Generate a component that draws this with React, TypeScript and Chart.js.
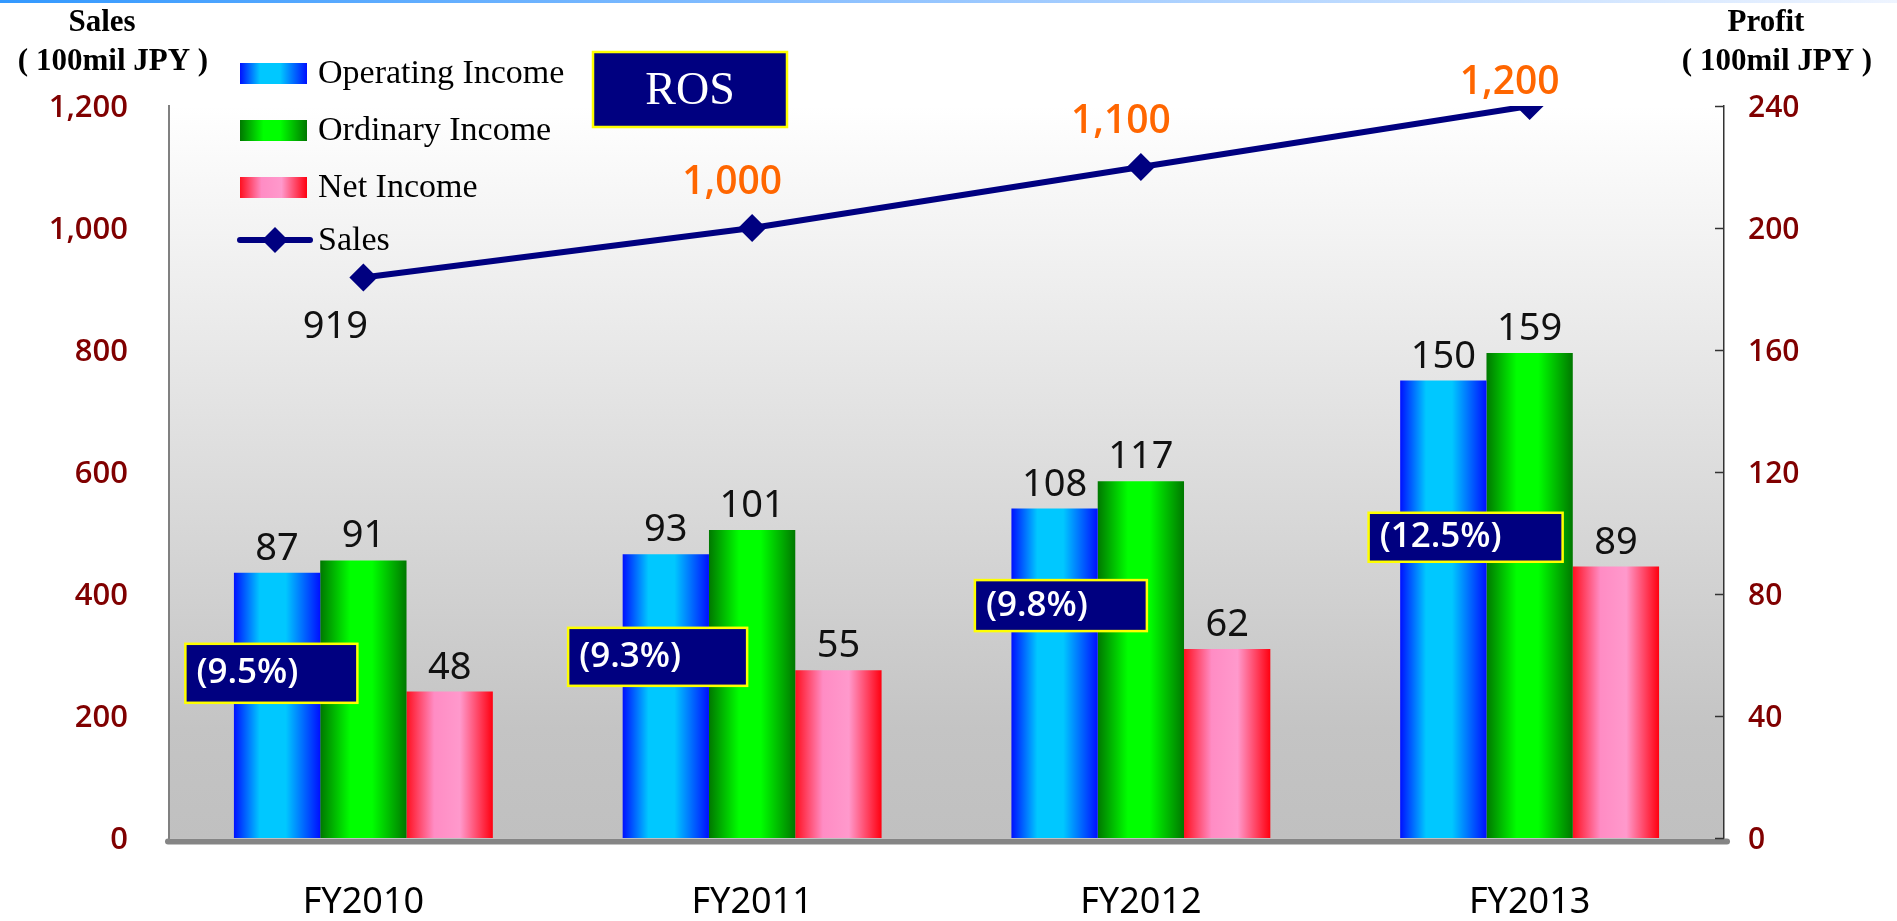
import React, { useEffect, useRef } from 'react';
import { Chart, registerables } from 'chart.js';

Chart.register(...registerables);

// ---------- data ----------
const categories = ['FY2010', 'FY2011', 'FY2012', 'FY2013'];
const operatingIncome = [87, 93, 108, 150];
const ordinaryIncome = [91, 101, 117, 159];
const netIncome = [48, 55, 62, 89];
const sales = [919, 1000, 1100, 1200];
const rosLabels = ['(9.5%)', '(9.3%)', '(9.8%)', '(12.5%)'];
const seriesNames = ['Operating Income', 'Ordinary Income', 'Net Income', 'Sales'];
const salesAxis = { min: 0, max: 1200, step: 200 };
const profitAxis = { min: 0, max: 240, step: 40 };
const salesAxisTitle = ['Sales', '( 100mil JPY )'];
const profitAxisTitle = ['Profit', '( 100mil JPY )'];
const rosTitle = 'ROS';

// ---------- styles / layout ----------
const W = 1897;
const H = 921;
const CAT_PCT = 0.666;
const NAVY = '#000080';
const AXIS_RED = '#800000';
const SANS = '"Noto Sans", "Open Sans", sans-serif';
const SANS_MED = '"Open Sans", "Noto Sans", sans-serif';
const SERIF = '"Liberation Serif", "DejaVu Serif", serif';

const GRADS: [number, string][][] = [
  [[0, '#0010ff'], [0.3, '#00c8ff'], [0.6, '#00c8ff'], [1, '#0010ff']],
  [[0, '#007800'], [0.35, '#00ff00'], [0.6, '#00ff00'], [1, '#007800']],
  [[0, '#ff1020'], [0.32, '#ff8cc4'], [0.62, '#ff99cc'], [1, '#ff0010']],
];

// ROS annotation boxes: offset from category centre, vertical centre in sales-axis units
const ROS_BOX = {
  dx: [-178, -184, -166, -161],
  yVal: [270, 297, 381, 493],
  w: [172, 179, 172, 194],
  h: [59, 58, 51, 49],
};

function makeGrad(ctx: CanvasRenderingContext2D, k: number, x0: number, x1: number) {
  const g = ctx.createLinearGradient(x0, 0, x1, 0);
  GRADS[k].forEach(([p, c]) => g.addColorStop(p, c));
  return g;
}

function barFill(k: number) {
  return (c: any) => {
    const chart = c.chart;
    const xs = chart.scales && chart.scales.x;
    if (!xs || !chart.chartArea || c.type !== 'data') return GRADS[k][1][1];
    const catW = xs.width / categories.length;
    const barW = (catW * CAT_PCT) / 3;
    const center = xs.getPixelForValue(c.dataIndex);
    const left = center - 1.5 * barW + k * barW;
    return makeGrad(chart.ctx, k, left, left + barW);
  };
}

function drawDiamond(ctx: CanvasRenderingContext2D, x: number, y: number, r: number) {
  ctx.beginPath();
  ctx.moveTo(x, y - r);
  ctx.lineTo(x + r, y);
  ctx.lineTo(x, y + r);
  ctx.lineTo(x - r, y);
  ctx.closePath();
  ctx.fill();
}

const backgroundPlugin = {
  id: 'bgPlugin',
  beforeDraw(chart: any) {
    const { ctx, chartArea } = chart;
    ctx.save();
    ctx.fillStyle = '#ffffff';
    ctx.fillRect(0, 0, W, H);
    const sg = ctx.createLinearGradient(0, 0, W, 0);
    sg.addColorStop(0, '#3399ff');
    sg.addColorStop(0.45, '#8fc2ff');
    sg.addColorStop(1, '#eef4ff');
    ctx.fillStyle = sg;
    ctx.fillRect(0, 0, W, 3);
    const bg = ctx.createLinearGradient(0, chartArea.top, 0, chartArea.bottom);
    bg.addColorStop(0, '#ffffff');
    bg.addColorStop(0.85, '#c4c4c4');
    bg.addColorStop(1, '#c0c0c0');
    ctx.fillStyle = bg;
    ctx.fillRect(chartArea.left, chartArea.top, chartArea.right - chartArea.left, chartArea.bottom - chartArea.top);
    ctx.restore();
  },
};

const overlayPlugin = {
  id: 'overlayPlugin',
  afterDatasetsDraw(chart: any) {
    const { ctx, chartArea, scales } = chart;
    const xs = scales.x;
    const ys = scales.y;
    const y1 = scales.y1;
    ctx.save();

    // bottom axis bar
    ctx.strokeStyle = '#858585';
    ctx.lineWidth = 6;
    ctx.lineCap = 'round';
    ctx.beginPath();
    ctx.moveTo(chartArea.left - 1, chartArea.bottom + 3.5);
    ctx.lineTo(chartArea.right + 3, chartArea.bottom + 3.5);
    ctx.stroke();

    // right axis inward ticks
    ctx.strokeStyle = '#333333';
    ctx.lineWidth = 1.5;
    ctx.lineCap = 'butt';
    for (let v = profitAxis.min; v <= profitAxis.max; v += profitAxis.step) {
      const py = Math.round(y1.getPixelForValue(v)) + 0.5;
      ctx.beginPath();
      ctx.moveTo(chartArea.right - 9, py);
      ctx.lineTo(chartArea.right, py);
      ctx.stroke();
    }

    // bar value labels
    ctx.fillStyle = '#111111';
    ctx.font = `38px ${SANS}`;
    ctx.textAlign = 'center';
    ctx.textBaseline = 'alphabetic';
    for (let d = 0; d < 3; d++) {
      const meta = chart.getDatasetMeta(d);
      meta.data.forEach((el: any, i: number) => {
        const v = chart.data.datasets[d].data[i];
        ctx.fillText(String(v), el.x, el.y - 13);
      });
    }

    // sales labels
    const lmeta = chart.getDatasetMeta(3);
    ctx.textBaseline = 'middle';
    lmeta.data.forEach((el: any, i: number) => {
      const v = sales[i];
      const txt = v.toLocaleString('en-US');
      if (i === 0) {
        ctx.fillStyle = '#111111';
        ctx.font = `38px ${SANS}`;
        ctx.fillText(txt, el.x - 28, el.y + 50);
      } else {
        ctx.fillStyle = '#ff6600';
        ctx.font = `600 39px ${SANS_MED}`;
        const ly = Math.max(el.y - 45, 83);
        ctx.fillText(txt, el.x - 20, ly);
      }
    });

    // ROS boxes
    rosLabels.forEach((t, i) => {
      const cx = xs.getPixelForValue(i);
      const bx = cx + ROS_BOX.dx[i];
      const by = ys.getPixelForValue(ROS_BOX.yVal[i]) - ROS_BOX.h[i] / 2;
      ctx.fillStyle = NAVY;
      ctx.fillRect(bx, by, ROS_BOX.w[i], ROS_BOX.h[i]);
      ctx.strokeStyle = '#ffff00';
      ctx.lineWidth = 2.5;
      ctx.strokeRect(bx, by, ROS_BOX.w[i], ROS_BOX.h[i]);
      ctx.fillStyle = '#ffffff';
      ctx.font = `600 35px ${SANS_MED}`;
      ctx.textAlign = 'left';
      ctx.textBaseline = 'middle';
      ctx.fillText(t, bx + 11, by + ROS_BOX.h[i] / 2);
    });

    // ROS header box
    ctx.fillStyle = NAVY;
    ctx.fillRect(593, 52, 194, 75);
    ctx.strokeStyle = '#ffff00';
    ctx.lineWidth = 2.5;
    ctx.strokeRect(593, 52, 194, 75);
    ctx.fillStyle = '#ffffff';
    ctx.font = `46px ${SERIF}`;
    ctx.textAlign = 'center';
    ctx.textBaseline = 'middle';
    ctx.fillText(rosTitle, 690, 92);

    // legend
    const rows = [73, 130, 187, 240];
    ctx.textAlign = 'left';
    ctx.textBaseline = 'middle';
    ctx.font = `34px ${SERIF}`;
    for (let k = 0; k < 3; k++) {
      ctx.fillStyle = makeGrad(ctx, k, 240, 307);
      ctx.fillRect(240, rows[k] - 10, 67, 21);
    }
    ctx.strokeStyle = NAVY;
    ctx.lineWidth = 6;
    ctx.lineCap = 'round';
    ctx.beginPath();
    ctx.moveTo(240, rows[3]);
    ctx.lineTo(310, rows[3]);
    ctx.stroke();
    ctx.fillStyle = NAVY;
    drawDiamond(ctx, 275, rows[3], 13);
    ctx.fillStyle = '#000000';
    seriesNames.forEach((n, k) => ctx.fillText(n, 318, rows[k] + 1));

    // axis titles
    ctx.font = `bold 31px ${SERIF}`;
    ctx.textAlign = 'center';
    ctx.fillText(salesAxisTitle[0], 102, 23);
    ctx.fillText(salesAxisTitle[1], 113, 62);
    ctx.fillText(profitAxisTitle[0], 1766, 23);
    ctx.fillText(profitAxisTitle[1], 1777, 62);

    ctx.restore();
  },
};

export default function App() {
  const ref = useRef<HTMLCanvasElement>(null);
  useEffect(() => {
    document.body.style.margin = '0';
    const canvas = ref.current;
    if (!canvas) return;
    const chart = new Chart(canvas, {
      type: 'bar',
      data: {
        labels: categories,
        datasets: [
          {
            type: 'bar',
            label: seriesNames[0],
            data: operatingIncome,
            yAxisID: 'y1',
            backgroundColor: barFill(0),
            borderWidth: 0,
            order: 1,
          },
          {
            type: 'bar',
            label: seriesNames[1],
            data: ordinaryIncome,
            yAxisID: 'y1',
            backgroundColor: barFill(1),
            borderWidth: 0,
            order: 1,
          },
          {
            type: 'bar',
            label: seriesNames[2],
            data: netIncome,
            yAxisID: 'y1',
            backgroundColor: barFill(2),
            borderWidth: 0,
            order: 1,
          },
          {
            type: 'line',
            label: seriesNames[3],
            data: sales,
            yAxisID: 'y',
            borderColor: NAVY,
            backgroundColor: NAVY,
            borderWidth: 6,
            pointStyle: 'rectRot',
            pointRadius: 14,
            pointBorderWidth: 0,
            pointBackgroundColor: NAVY,
            pointBorderColor: NAVY,
            tension: 0,
            fill: false,
            order: 0,
          } as any,
        ],
      },
      options: {
        responsive: false,
        animation: false,
        devicePixelRatio: 1,
        layout: { padding: { top: 106, left: 0, right: 0, bottom: 0 } },
        datasets: {
          bar: { categoryPercentage: CAT_PCT, barPercentage: 1 },
        },
        plugins: {
          legend: { display: false },
          tooltip: { enabled: false },
        },
        scales: {
          x: {
            type: 'category',
            offset: true,
            grid: { display: false, drawTicks: false },
            border: { display: false },
            ticks: {
              color: '#000000',
              font: { family: SANS, size: 36 },
              padding: 43,
            },
            afterFit: (s: any) => {
              s.height = 83;
            },
          },
          y: {
            type: 'linear',
            position: 'left',
            min: salesAxis.min,
            max: salesAxis.max,
            grid: { display: false, drawTicks: false },
            border: { display: true, color: '#808080', width: 2 },
            ticks: {
              stepSize: salesAxis.step,
              color: AXIS_RED,
              font: { family: SANS_MED, size: 31, weight: '600' },
              padding: 41,
              labelOffset: 2,
              callback: (v: any) => Number(v).toLocaleString('en-US'),
            },
            afterFit: (s: any) => {
              s.width = 169;
            },
          },
          y1: {
            type: 'linear',
            position: 'right',
            min: profitAxis.min,
            max: profitAxis.max,
            grid: { display: false, drawTicks: false },
            border: { display: true, color: '#333333', width: 1.5 },
            ticks: {
              stepSize: profitAxis.step,
              color: AXIS_RED,
              font: { family: SANS_MED, size: 30, weight: '600' },
              padding: 24,
              labelOffset: 2,
            },
            afterFit: (s: any) => {
              s.width = 173;
            },
          },
        },
      } as any,
      plugins: [backgroundPlugin, overlayPlugin],
    });
    return () => chart.destroy();
  }, []);
  return (
    <div style={{ width: W, height: H }}>
      <canvas ref={ref} width={W} height={H} style={{ display: 'block', width: W, height: H }} />
    </div>
  );
}
